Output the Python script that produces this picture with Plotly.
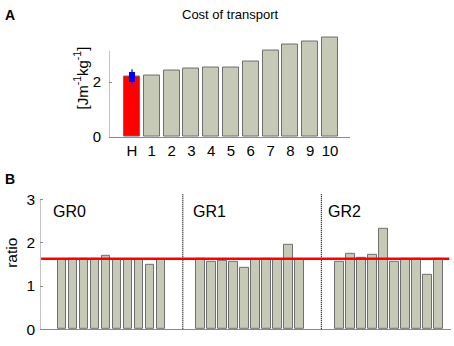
import plotly.graph_objects as go

# ---------------- data ----------------
# Panel A: cost of transport
cot_categories = ["H", "1", "2", "3", "4", "5", "6", "7", "8", "9", "10"]
cot_values = [2.19, 2.23, 2.41, 2.51, 2.54, 2.54, 2.74, 3.17, 3.36, 3.48, 3.63]
human_box_center = 2.185
human_box_half = 0.185
human_whisker_center = 2.18
human_whisker_half = 0.29

# Panel B: ratio for groups
group_labels = ["GR0", "GR1", "GR2"]
gr0 = [1.60, 1.63, 1.63, 1.63, 1.69, 1.60, 1.60, 1.60, 1.49, 1.60]
gr1 = [1.63, 1.55, 1.58, 1.56, 1.42, 1.61, 1.62, 1.60, 1.95, 1.60]
gr2 = [1.56, 1.745, 1.655, 1.72, 2.33, 1.57, 1.63, 1.62, 1.26, 1.62]
human_ratio = 1.63

# ---------------- style ----------------
W, H = 454, 346
FONT = "Liberation Sans, Arial, sans-serif"
BAR_FILL = "#c6c9b6"
BAR_EDGE = "#6f6f6f"
AXIS_COL = "#8a8a8a"

def px_x(p):
    return p / W

def px_y(p):
    return 1 - p / H

fig = go.Figure()

# Panel A bars
colors_a = ["#ff0000"] + [BAR_FILL] * (len(cot_categories) - 1)
fig.add_trace(go.Bar(
    x=cot_categories, y=cot_values, xaxis="x", yaxis="y",
    marker=dict(color=colors_a, line=dict(color=BAR_EDGE, width=1)),
    width=0.8, showlegend=False, hoverinfo="skip"))
# Human whisker (thin) and box (thick)
fig.add_trace(go.Scatter(
    x=[cot_categories[0]], y=[human_whisker_center], xaxis="x", yaxis="y",
    mode="markers", marker=dict(size=1, color="rgba(0,0,255,0)"),
    error_y=dict(type="data", array=[human_whisker_half], symmetric=True,
                 color="#2a2aff", thickness=1.5, width=0),
    showlegend=False, hoverinfo="skip"))
fig.add_trace(go.Scatter(
    x=[cot_categories[0]], y=[human_box_center], xaxis="x", yaxis="y",
    mode="markers", marker=dict(size=1, color="rgba(0,0,255,0)"),
    error_y=dict(type="data", array=[human_box_half], symmetric=True,
                 color="#0000ff", thickness=6, width=0),
    showlegend=False, hoverinfo="skip"))

# Panel B bars
group_step = 12.6
groups = [gr0, gr1, gr2]
xs_b, ys_b = [], []
for g, vals in enumerate(groups):
    for i, v in enumerate(vals):
        xs_b.append(g * group_step + i)
        ys_b.append(v)
fig.add_trace(go.Bar(
    x=xs_b, y=ys_b, xaxis="x2", yaxis="y2",
    marker=dict(color=BAR_FILL, line=dict(color=BAR_EDGE, width=1)),
    width=0.8, showlegend=False, hoverinfo="skip"))

# axes geometry
xa_range = [-1.16, 11.01]
ya_range = [0, 3.7]
xb_range = [-2.0, 35.36]
yb_range = [0, 3.13]

shapes = []
# panel A y axis line (only up to ~3.14)
shapes.append(dict(type="line", xref="x", yref="y", x0=xa_range[0], x1=xa_range[0],
                   y0=0, y1=3.14, line=dict(color=AXIS_COL, width=1)))
# panel B y axis line up to 3
shapes.append(dict(type="line", xref="x2", yref="y2", x0=xb_range[0], x1=xb_range[0],
                   y0=0, y1=3, line=dict(color=AXIS_COL, width=1)))
# dotted group separators
for g in (1, 2):
    xd = g * group_step - 1.62
    shapes.append(dict(type="line", xref="x2", yref="y2", x0=xd, x1=xd,
                       y0=0, y1=yb_range[1], line=dict(color="#000000", width=1.2, dash="1px,1px")))
# human reference line
shapes.append(dict(type="line", xref="x2", yref="y2", x0=xb_range[0] + 0.1, x1=35.2,
                   y0=human_ratio, y1=human_ratio, line=dict(color="#ff0000", width=2.5)))

annotations = [
    dict(text="<b>A</b>", x=px_x(3), y=px_y(12), xref="paper", yref="paper",
         xanchor="left", yanchor="middle", showarrow=False, font=dict(size=14, family=FONT, color="black")),
    dict(text="<b>B</b>", x=px_x(3), y=px_y(182), xref="paper", yref="paper",
         xanchor="left", yanchor="middle", showarrow=False, font=dict(size=14, family=FONT, color="black")),
    dict(text="Cost of transport", x=px_x(230), y=px_y(12), xref="paper", yref="paper",
         xanchor="center", yanchor="middle", showarrow=False, font=dict(size=13, family=FONT, color="black")),
    dict(text="[Jm<sup>-1</sup>kg<sup>-1</sup>]", x=px_x(81), y=px_y(78), xref="paper", yref="paper",
         xanchor="center", yanchor="middle", textangle=-90, showarrow=False,
         font=dict(size=15, family=FONT, color="black")),
    dict(text="ratio", x=px_x(12), y=px_y(258), xref="paper", yref="paper",
         xanchor="center", yanchor="middle", textangle=-90, showarrow=False,
         font=dict(size=15.5, family=FONT, color="black")),
]
gr_label_px = [50.5, 190.5, 325.5]
for lab, xp in zip(group_labels, gr_label_px):
    annotations.append(dict(text=lab, x=px_x(xp), y=px_y(215), xref="paper", yref="paper",
                            xanchor="left", yanchor="middle", showarrow=False,
                            font=dict(size=16, family=FONT, color="black")))

fig.update_layout(
    width=W, height=H, margin=dict(l=0, r=0, t=0, b=0),
    paper_bgcolor="white", plot_bgcolor="white",
    font=dict(family=FONT, color="black"),
    bargap=0,
    xaxis=dict(domain=[px_x(109), px_x(350)], range=xa_range, anchor="y",
               type="category", showline=True, linecolor=AXIS_COL, linewidth=1,
               showgrid=False, zeroline=False, ticks="", tickfont=dict(size=15, color="black")),
    yaxis=dict(domain=[px_y(138.3), px_y(138.3 - 3.7 * 28.3)], range=ya_range, anchor="x",
               showline=False, showgrid=False, zeroline=False,
               tickvals=[0, 2], ticktext=["0", "2"], ticks="inside", ticklen=3,
               tickcolor=AXIS_COL, ticklabelstandoff=7, tickfont=dict(size=15, color="black")),
    xaxis2=dict(domain=[px_x(40), px_x(451)], range=xb_range, anchor="y2",
                showline=True, linecolor=AXIS_COL, linewidth=1,
                showgrid=False, zeroline=False, ticks="", showticklabels=False),
    yaxis2=dict(domain=[px_y(337), px_y(337 - 3.13 * 44.7)], range=yb_range, anchor="x2",
                showline=False, showgrid=False, zeroline=False,
                tickvals=[0, 1, 2, 3], ticks="inside", ticklen=3,
                tickcolor=AXIS_COL, ticklabelstandoff=4, tickfont=dict(size=15.5, color="black")),
    shapes=shapes,
    annotations=annotations,
)

fig.write_html("out.html", config={"displayModeBar": False},
               post_script="document.body.style.margin='0';document.body.style.overflow='hidden';")
